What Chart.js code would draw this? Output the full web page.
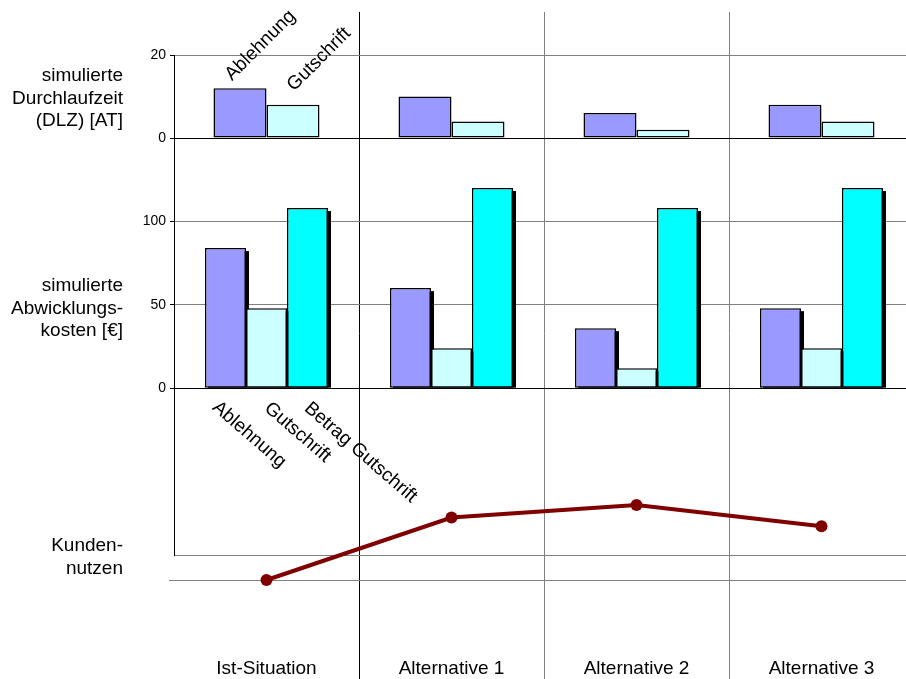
<!DOCTYPE html>
<html lang="de">
<head>
<meta charset="utf-8">
<title>Alternativenvergleich</title>
<script src="https://cdn.jsdelivr.net/npm/chart.js@4.4.1/dist/chart.umd.min.js"></script>
<style>
  html, body { margin: 0; padding: 0; background: #fff; overflow: hidden; }
  #wrap { position: relative; width: 906px; height: 679px; overflow: hidden; }
  #wrap canvas { position: absolute; left: 0; top: 0; }
  .rowlabel {
    position: absolute; right: 783px; text-align: right; white-space: nowrap;
    font: 19px "Liberation Sans", Arial, sans-serif; line-height: 22.5px; color: #000;
  }
</style>
</head>
<body>
<div id="wrap">
  <canvas id="nutzen" width="920" height="679"></canvas>
  <canvas id="kosten" width="920" height="679"></canvas>
  <canvas id="dlz" width="920" height="679"></canvas>
  <div class="rowlabel" style="top:64px">simulierte<br>Durchlaufzeit<br>(DLZ) [AT]</div>
  <div class="rowlabel" style="top:274px">simulierte<br>Abwicklungs-<br>kosten [€]</div>
  <div class="rowlabel" style="top:533px; line-height:23px">Kunden-<br>nutzen</div>
</div>
<script>
'use strict';

const categories = ['Ist-Situation', 'Alternative 1', 'Alternative 2', 'Alternative 3'];

// simulierte Durchlaufzeit (DLZ) [AT]
const dlzAblehnung = [12, 10, 6, 8];
const dlzGutschrift = [8, 4, 2, 4];
const dlzTicks = [0, 20];

// simulierte Abwicklungskosten [€]
const kostenAblehnung = [84, 60, 36, 48];
const kostenGutschrift = [48, 24, 12, 24];
const kostenBetrag = [108, 120, 108, 120];
const kostenTicks = [0, 50, 100];

// Kundennutzen
const kundennutzen = [0, 2.5, 3, 2.15];
const nutzenLines = [0, 1];

Chart.defaults.font.family = '"Liberation Sans", Arial, sans-serif';
Chart.defaults.color = '#000';

const GRAY = '#808080';
const NONE = 'rgba(0,0,0,0)';

// all three charts share the same left edge
function fixedWidth(axis) {
  axis.width = 174;
}

// black drop shadow behind bars (drawn first, bars cover it)
const barShadow = {
  id: 'barShadow',
  beforeDatasetsDraw(chart, args, opts) {
    if (!opts.offset) return;
    const ctx = chart.ctx;
    ctx.save();
    ctx.fillStyle = opts.color || '#000';
    chart.getSortedVisibleDatasetMetas().forEach(meta => {
      meta.data.forEach(bar => {
        const p = bar.getProps(['x', 'y', 'base', 'width'], true);
        const top = p.y + opts.offset;
        if (p.base > top) ctx.fillRect(p.x - p.width / 2 + opts.offset, top, p.width, p.base - top);
      });
    });
    ctx.restore();
  }
};

// slanted series names at the first category
const seriesLabels = {
  id: 'seriesLabels',
  afterDatasetsDraw(chart, args, opts) {
    if (!opts.shift) return;
    const ctx = chart.ctx;
    ctx.save();
    ctx.font = '19px "Liberation Sans", Arial, sans-serif';
    ctx.fillStyle = '#000';
    ctx.textAlign = 'left';
    ctx.textBaseline = 'alphabetic';
    chart.data.datasets.forEach((ds, i) => {
      const bar = chart.getDatasetMeta(i).data[0];
      const s = opts.shift[i];
      ctx.save();
      ctx.translate(bar.x + s[0], (opts.fromBase ? bar.base : bar.y) + s[1]);
      ctx.rotate(opts.angle * Math.PI / 180);
      ctx.fillText(ds.label, 0, 0);
      ctx.restore();
    });
    ctx.restore();
  }
};

// bottom: Kundennutzen line, plus the category frame and labels
new Chart(document.getElementById('nutzen'), {
  type: 'line',
  data: {
    labels: categories,
    datasets: [{
      label: 'Kundennutzen',
      data: kundennutzen,
      borderColor: '#800000',
      backgroundColor: '#800000',
      borderWidth: 4,
      pointRadius: 6,
      pointBorderWidth: 0,
      tension: 0
    }]
  },
  options: {
    responsive: false,
    animation: false,
    layout: { padding: { top: 12, right: 6, bottom: 0, left: 0 } },
    scales: {
      x: {
        offset: true,
        afterFit: ax => { ax.height = 24; },
        grid: {
          offset: true,
          tickLength: 24,
          color: c => c.index === 0 ? NONE : (c.index === 1 ? '#000' : GRAY)
        },
        border: { display: false },
        ticks: { font: { size: 19 }, padding: -22, maxRotation: 0, autoSkip: false }
      },
      y: {
        min: -3,
        max: 22.72,
        afterFit: fixedWidth,
        afterBuildTicks: ax => { ax.ticks = nutzenLines.map(v => ({ value: v })); },
        ticks: { display: false },
        grid: {
          color: GRAY,
          tickLength: 5,
          tickColor: c => c.tick && c.tick.value === 0 ? GRAY : NONE
        },
        border: { display: false }
      }
    },
    plugins: { legend: { display: false }, tooltip: { enabled: false } }
  }
});

// middle: simulierte Abwicklungskosten
new Chart(document.getElementById('kosten'), {
  type: 'bar',
  data: {
    labels: categories,
    datasets: [
      { label: 'Ablehnung', data: kostenAblehnung, backgroundColor: '#9999ff' },
      { label: 'Gutschrift', data: kostenGutschrift, backgroundColor: '#ccffff' },
      { label: 'Betrag Gutschrift', data: kostenBetrag, backgroundColor: '#00ffff' }
    ]
  },
  options: {
    responsive: false,
    animation: false,
    layout: { padding: { top: 138, right: 6, bottom: 124, left: 0 } },
    datasets: {
      bar: { categoryPercentage: 0.665, barPercentage: 1, borderColor: '#000', borderWidth: 1.5, borderSkipped: false }
    },
    scales: {
      x: { display: false },
      y: {
        min: -100,
        max: 150,
        afterFit: fixedWidth,
        afterBuildTicks: ax => { ax.ticks = kostenTicks.map(v => ({ value: v })); },
        ticks: { font: { size: 14 }, padding: 4 },
        grid: { color: c => c.tick.value === 0 ? '#000' : GRAY, tickColor: '#000', tickLength: 4 },
        border: { color: '#000' }
      }
    },
    plugins: {
      legend: { display: false },
      tooltip: { enabled: false },
      barShadow: { offset: 3, color: '#000' },
      seriesLabels: { angle: 41, fromBase: true, shift: [[-14, 21], [-3, 22], [-4, 22]] }
    }
  },
  plugins: [barShadow, seriesLabels]
});

// top: simulierte Durchlaufzeit
new Chart(document.getElementById('dlz'), {
  type: 'bar',
  data: {
    labels: categories,
    datasets: [
      { label: 'Ablehnung', data: dlzAblehnung, backgroundColor: '#9999ff' },
      { label: 'Gutschrift', data: dlzGutschrift, backgroundColor: '#ccffff' }
    ]
  },
  options: {
    responsive: false,
    animation: false,
    layout: { padding: { top: 55, right: 6, bottom: 541, left: 0 } },
    datasets: {
      bar: { categoryPercentage: 0.573, barPercentage: 1, borderColor: '#000', borderWidth: 1.5, borderSkipped: false }
    },
    scales: {
      x: { display: false },
      y: {
        min: 0,
        max: 20,
        afterFit: fixedWidth,
        afterBuildTicks: ax => { ax.ticks = dlzTicks.map(v => ({ value: v })); },
        ticks: { font: { size: 14 }, padding: 4 },
        grid: { color: c => c.tick.value === 0 ? '#000' : GRAY, tickColor: '#000', tickLength: 4 },
        border: { color: '#000' }
      }
    },
    plugins: {
      legend: { display: false },
      tooltip: { enabled: false },
      seriesLabels: { angle: -45, fromBase: false, shift: [[-8, -7], [1, -13]] }
    }
  },
  plugins: [seriesLabels]
});
</script>
</body>
</html>
